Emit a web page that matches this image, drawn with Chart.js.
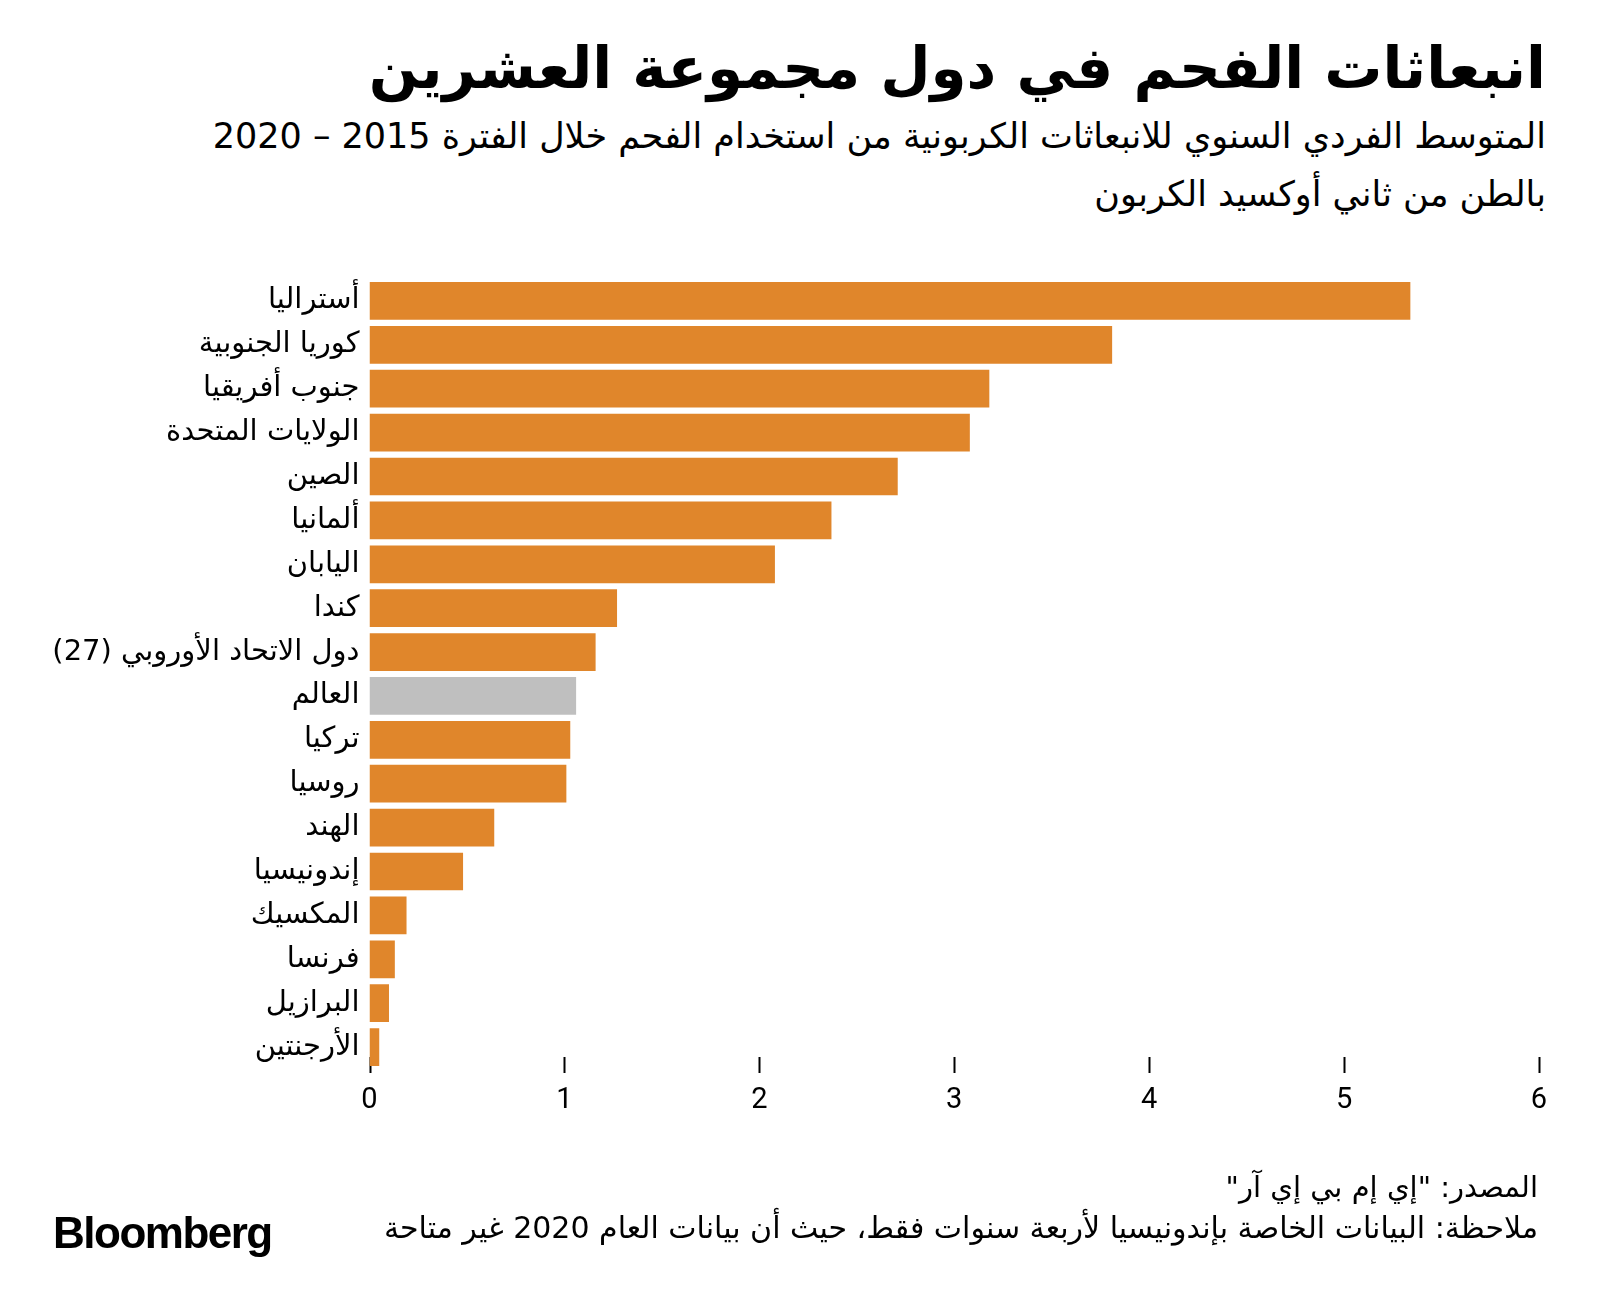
<!DOCTYPE html>
<html>
<head>
<meta charset="utf-8">
<script src="https://cdn.jsdelivr.net/npm/chart.js@4"></script>
<style>
  html, body { margin: 0; padding: 0; background: #fff; }
  body { width: 1600px; height: 1311px; position: relative; overflow: hidden; font-family: "DejaVu Sans", sans-serif; }
  #chartBox { position: absolute; left: 0; top: 0; width: 1600px; height: 1311px; }
  .txt { position: absolute; right: 54px; direction: rtl; text-align: right; white-space: nowrap; color: #000; }
  #title { top: 34px; font-size: 58px; font-weight: bold; }
  #sub1 { top: 116px; font-size: 35px; }
  #sub2 { top: 174px; font-size: 35px; }
  #source { top: 1170px; right: 62px; font-size: 29px; }
  #note { top: 1210px; right: 62px; font-size: 30px; }
  #logo { position: absolute; left: 53px; top: 1208px; font-family: "Liberation Sans", Arial, sans-serif; font-weight: bold; font-size: 44px; letter-spacing: -1.5px; color: #000; }
</style>
</head>
<body>
<div id="title" class="txt">انبعاثات الفحم في دول مجموعة العشرين</div>
<div id="sub1" class="txt">المتوسط الفردي السنوي للانبعاثات الكربونية من استخدام الفحم خلال الفترة 2015 – 2020</div>
<div id="sub2" class="txt">بالطن من ثاني أوكسيد الكربون</div>
<div id="chartBox"><canvas id="chart"></canvas></div>
<div id="source" class="txt">المصدر: "إي إم بي إي آر"</div>
<div id="note" class="txt">ملاحظة: البيانات الخاصة بإندونيسيا لأربعة سنوات فقط، حيث أن بيانات العام 2020 غير متاحة</div>
<div id="logo">Bloomberg</div>
<script>
const countries = ["أستراليا", "كوريا الجنوبية", "جنوب أفريقيا", "الولايات المتحدة", "الصين", "ألمانيا", "اليابان", "كندا",
    "دول الاتحاد الأوروبي (27)", "العالم", "تركيا", "روسيا", "الهند", "إندونيسيا", "المكسيك", "فرنسا", "البرازيل", "الأرجنتين"];
const emissions = [5.34, 3.81, 3.18, 3.08, 2.71, 2.37, 2.08, 1.27, 1.16, 1.06, 1.03, 1.01, 0.64, 0.48, 0.19, 0.13, 0.10, 0.05];
const xTicks = [0, 1, 2, 3, 4, 5, 6];

const $orange = "#e0862b";
const $grey = "#bfbfbf";
const $textC = "#000000";

const barColors = countries.map(c => c == "العالم" ? $grey : $orange);

// short tick marks that poke up into the plot, drawn under the bars
const tickMarks = {
    id: 'tickMarks',
    beforeDatasetsDraw(chart) {
        const ctx = chart.ctx;
        const x = chart.scales.x;
        const bottom = chart.chartArea.bottom;
        ctx.save();
        ctx.strokeStyle = $textC;
        ctx.lineWidth = 2;
        xTicks.forEach(v => {
            const px = Math.round(x.getPixelForValue(v)) + 0.5;
            ctx.beginPath();
            ctx.moveTo(px, bottom - 12);
            ctx.lineTo(px, bottom + 4);
            ctx.stroke();
        });
        ctx.restore();
    }
};

new Chart(document.getElementById('chart'), {
    type: 'bar',
    data: {
        labels: countries.map(c => "\u202B" + c + "\u202C"),
        datasets: [{
            data: emissions,
            backgroundColor: barColors,
            borderWidth: 0,
            categoryPercentage: 1,
            barPercentage: 0.86,
        }]
    },
    options: {
        indexAxis: 'y',
        responsive: true,
        maintainAspectRatio: false,
        animation: false,
        layout: { padding: { top: 279, right: 61, left: 0, bottom: 0 } },
        plugins: {
            legend: { display: false },
            tooltip: { enabled: false },
        },
        scales: {
            x: {
                min: 0,
                max: 6,
                afterFit: s => { s.height = 1311 - 1069; },
                afterBuildTicks: s => { s.ticks = xTicks.map(v => ({ value: v })); },
                grid: { display: false },
                border: { display: false },
                ticks: {
                    color: $textC,
                    padding: 6,
                    font: { family: "Roboto", size: 29 },
                },
            },
            y: {
                afterFit: s => { s.width = 369.5; },
                grid: { display: false },
                border: { display: false },
                ticks: {
                    color: $textC,
                    padding: 2,
                    font: { family: "DejaVu Sans", size: 29 },
                },
            }
        }
    },
    plugins: [tickMarks]
});
</script>
</body>
</html>
